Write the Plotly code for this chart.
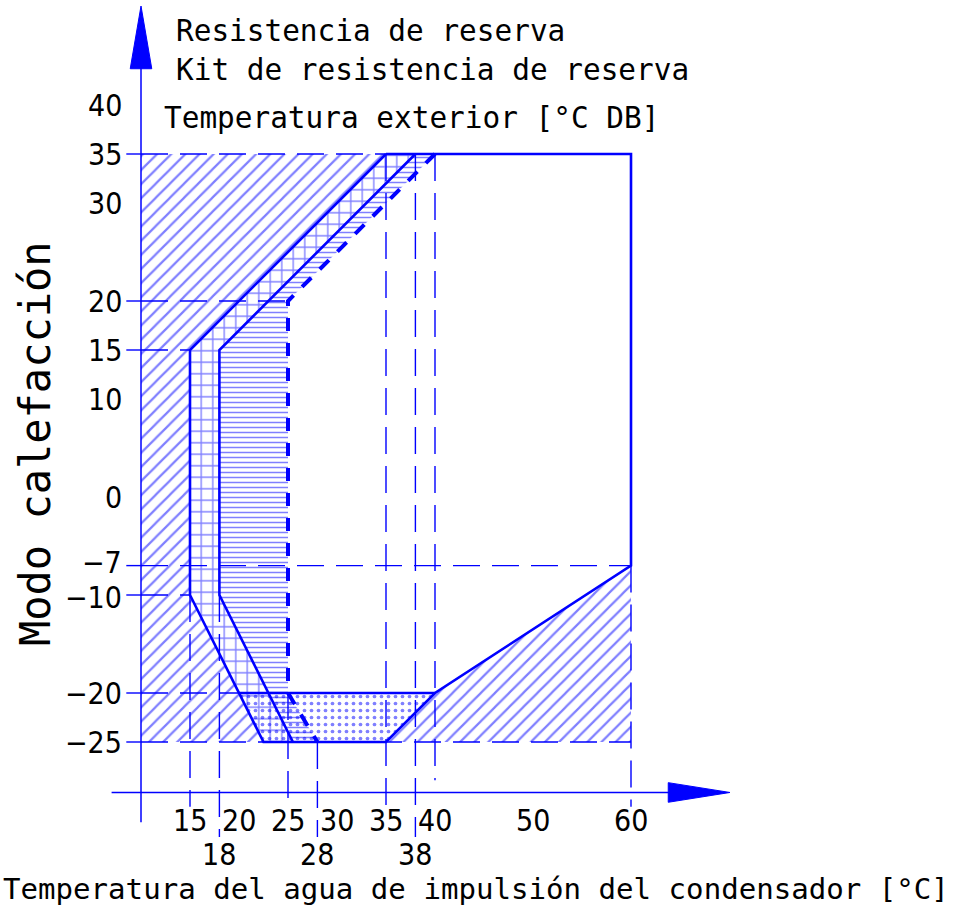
import plotly.graph_objects as go

# ---------------- data (°C water temp on x, °C DB outdoor temp on y) ----------------
x_ticks_row1 = [15, 20, 25, 30, 35, 40, 50, 60]
x_ticks_row2 = [18, 28, 38]
y_tick_values = [40, 35, 30, 20, 15, 10, 0, -7, -10, -20, -25]
y_tick_labels = ["40", "35", "30", "20", "15", "10", "0", "−7", "−10", "−20", "−25"]
y_tick_marks = [35, 20, 15, -7, -10, -20, -25]

envelope_x = [35, 15, 15, 22.5, 35, 40, 60, 60, 35]
envelope_y = [35, 15, -10, -25, -25, -20, -7, 35, 35]
left_out_x = [10, 35, 15, 15, 22.5, 10]
left_out_y = [35, 35, 15, -10, -25, -25]
right_out_x = [35, 40, 60, 60]
right_out_y = [-25, -20, -7, -25]
heater_x = [15, 35, 38, 18, 18, 25.5, 22.5, 15]
heater_y = [15, 35, 35, 15, -10, -25, -25, -10]
kit_x = [18, 38, 40, 25, 25, 28, 25.5, 18]
kit_y = [15, 35, 35, 20, -20, -25, -25, -10]
dotted_x = [20, 40, 35, 22.5]
dotted_y = [-20, -20, -25, -25]
inner_x = [38, 18, 18, 25.5]
inner_y = [35, 15, -10, -25]
kit_limit_x = [40, 25, 25, 28]
kit_limit_y = [35, 20, -20, -25]
low_limit_x = [20, 40]
low_limit_y = [-20, -20]

# guide lines: vertical (x, y_from, y_to) and horizontal (y, x_from, x_to)
vguide_x = [15, 18, 25, 28, 35, 38, 40, 60]
vguide_y0 = [-10, -10, -20, -25, 35, 35, 35, -7]
vguide_y1 = [-31.6, -34.7, -31.6, -34.7, -31.6, -34.7, -28.9, -31.6]
hguide_y = [35, 20, 15, -7, -10, -20, -25]
hguide_x0 = [10, 10, 10, 10, 10, 10, 10]
hguide_x1 = [35, 25, 15, 60, 15, 20, 60]

AXIS_X = 10
AXIS_Y = -30.15

# ---------------- styling ----------------
BLUE = "#0000ff"
PX = 9.8          # pixels per unit on both axes
X0PX, Y0PX = 43, 497
W, H = 954, 911
MONO = "DejaVu Sans Mono"
NARROW = "DejaVu Sans Condensed, Liberation Sans Narrow, Liberation Sans, sans-serif"

fig = go.Figure()


def pattern_fill(xs, ys, shape, size, solidity):
    fig.add_trace(go.Scatter(
        x=xs, y=ys, mode="none", fill="toself",
        fillcolor="rgba(0,0,0,0)",
        fillpattern=dict(shape=shape, size=size, solidity=solidity,
                         fgcolor=BLUE, bgcolor="rgba(0,0,0,0)"),
        hoverinfo="skip", showlegend=False))


def line(xs, ys, width, dash="solid"):
    fig.add_trace(go.Scatter(x=xs, y=ys, mode="lines",
                             line=dict(color=BLUE, width=width, dash=dash),
                             hoverinfo="skip", showlegend=False))


# hatched areas
pattern_fill(left_out_x, left_out_y, "/", 10, 0.22)
pattern_fill(right_out_x, right_out_y, "/", 10, 0.22)
pattern_fill(dotted_x, dotted_y, ".", 7, 0.22)
pattern_fill(heater_x, heater_y, "+", 11.5, 0.22)
pattern_fill(kit_x, kit_y, "-", 5, 0.3)

# dashed guide lines
vx, vy = [], []
for x, a, b in zip(vguide_x, vguide_y0, vguide_y1):
    vx += [x, x, None]
    vy += [a, b, None]
line(vx, vy, 1.4, "27px,12px")
hx, hy = [], []
for y, a, b in zip(hguide_y, hguide_x0, hguide_x1):
    hx += [a, b, None]
    hy += [y, y, None]
line(hx, hy, 1.4, "27px,12px")

# y tick marks
tx, ty = [], []
for y in y_tick_marks:
    tx += [AXIS_X - 1.5, AXIS_X, None]
    ty += [y, y, None]
line(tx, ty, 1.4)

# boundary lines
line(envelope_x, envelope_y, 2.6)
line(inner_x, inner_y, 2.6)
line(low_limit_x, low_limit_y, 2.6)
line(kit_limit_x, kit_limit_y, 4, "13px,12px")

# axes with arrows
line([AXIS_X, AXIS_X], [-33.2, 44], 1.5)
line([7, 64], [AXIS_Y, AXIS_Y], 1.5)
fig.add_trace(go.Scatter(x=[AXIS_X, AXIS_X - 1.1, AXIS_X + 1.1, AXIS_X],
                         y=[50.1, 43.7, 43.7, 50.1], mode="lines", fill="toself",
                         fillcolor=BLUE, line=dict(color=BLUE, width=1),
                         hoverinfo="skip", showlegend=False))
fig.add_trace(go.Scatter(x=[70.1, 63.8, 63.8, 70.1],
                         y=[AXIS_Y, AXIS_Y + 1.0, AXIS_Y - 1.0, AXIS_Y], mode="lines",
                         fill="toself", fillcolor=BLUE, line=dict(color=BLUE, width=1),
                         hoverinfo="skip", showlegend=False))

ann = []
tick_font = dict(family=NARROW, size=30, color="black")
# tick labels (slight nudge apart for the close -7 / -10 pair)
nudge = {-7: 0.3, -10: -0.3}
for v, t in zip(y_tick_values, y_tick_labels):
    ann.append(dict(x=8.3, y=v + nudge.get(v, 0), text=t, xanchor="right", yanchor="middle",
                    font=tick_font))
for v in x_ticks_row1:
    ann.append(dict(x=v, y=-33.06, text=str(v), xanchor="center", yanchor="middle",
                    font=tick_font))
for v in x_ticks_row2:
    ann.append(dict(x=v, y=-36.43, text=str(v), xanchor="center", yanchor="middle",
                    font=tick_font))

# texts
mono = dict(family=MONO, size=29.4, color="black")
ann.append(dict(x=(174 - X0PX) / PX, y=(Y0PX - 31) / PX, text="Resistencia de reserva",
                xanchor="left", yanchor="middle", font=mono))
ann.append(dict(x=(174 - X0PX) / PX, y=(Y0PX - 70) / PX, text="Kit de resistencia de reserva",
                xanchor="left", yanchor="middle", font=mono))
ann.append(dict(x=(162 - X0PX) / PX, y=(Y0PX - 118) / PX, text="Temperatura exterior [°C DB]",
                xanchor="left", yanchor="middle", font=mono))
ann.append(dict(x=(1 - X0PX) / PX, y=(Y0PX - 889) / PX,
                text="Temperatura del agua de impulsión del condensador [°C]",
                xanchor="left", yanchor="middle", font=dict(family=MONO, size=29.1, color="black")))
ann.append(dict(x=(35 - X0PX) / PX, y=(Y0PX - 444) / PX, text="Modo calefacción",
                xanchor="center", yanchor="middle", textangle=-90,
                font=dict(family=MONO, size=42, color="black")))
for a in ann:
    a.update(xref="x", yref="y", showarrow=False)

fig.update_layout(
    width=W, height=H, autosize=False,
    margin=dict(l=0, r=0, t=0, b=0, pad=0),
    paper_bgcolor="white", plot_bgcolor="white",
    xaxis=dict(range=[(0 - X0PX) / PX, (W - X0PX) / PX], visible=False, fixedrange=True),
    yaxis=dict(range=[(Y0PX - H) / PX, Y0PX / PX], visible=False, fixedrange=True),
    annotations=ann,
    showlegend=False,
)

fig.write_html("out.html", config={"displayModeBar": False},
               post_script="document.body.style.margin='0';document.body.style.overflow='hidden';")
